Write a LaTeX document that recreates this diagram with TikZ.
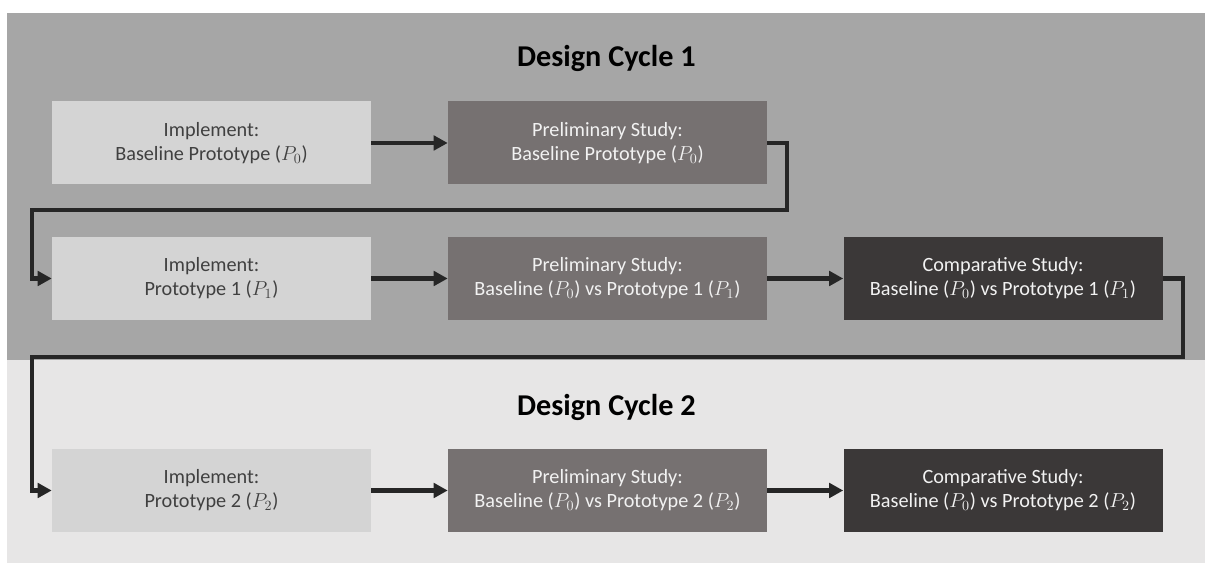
\documentclass[tikz,border=0pt]{standalone}
\usepackage{fontspec}
\setmainfont{Carlito}
\usetikzlibrary{arrows.meta}

\definecolor{panelA}{HTML}{A6A6A6}
\definecolor{panelB}{HTML}{E7E6E6}
\definecolor{implfill}{HTML}{D4D4D4}
\definecolor{prelfill}{HTML}{767171}
\definecolor{compfill}{HTML}{3B3838}
\definecolor{flowline}{HTML}{262626}

\begin{document}
\begin{tikzpicture}[
    box/.style={minimum width=7.975cm, minimum height=2.075cm, inner sep=0pt,
      align=center, font=\fontsize{14.4}{17}\selectfont},
    impl/.style={box, fill=implfill, text=black!75},
    prel/.style={box, fill=prelfill, text=white!95!black},
    comp/.style={box, fill=compfill, text=white!95!black},
    cycle/.style={anchor=base, font=\fontsize{21.5}{24}\selectfont\bfseries},
    flow/.style={draw=flowline, line width=3.3pt, -{Triangle[length=0.35cm, width=0.36cm]}},
  ]
    \useasboundingbox (0, 0) rectangle (30.125, 14.125);
    \fill[white] (0, 0) rectangle (30.125, 14.125);

    % two shaded bands, one per cycle
    \fill[panelA] (0.175, 5.125) rectangle (30.125, 13.8);
    \fill[panelB] (0.175, 0.05) rectangle (30.125, 5.125);

    \node[cycle] (title1) at (15.16, 12.45) {Design Cycle 1};
    \node[cycle] (title2) at (15.16, 3.725) {Design Cycle 2};

    % cycle 1
    \node[impl] (i0) at (5.2875, 10.55) {Implement:\\Baseline Prototype ($P_0$)};
    \node[prel] (s0) at (15.1875, 10.55) {Preliminary Study:\\Baseline Prototype ($P_0$)};
    \node[impl] (i1) at (5.2875, 7.1625) {Implement:\\Prototype 1 ($P_1$)};
    \node[prel] (s1) at (15.1875, 7.1625) {Preliminary Study:\\Baseline ($P_0$) vs Prototype 1 ($P_1$)};
    \node[comp] (c1) at (25.075, 7.1625) {Comparative Study:\\Baseline ($P_0$) vs Prototype 1 ($P_1$)};

    % cycle 2
    \node[impl] (i2) at (5.2875, 1.8625) {Implement:\\Prototype 2 ($P_2$)};
    \node[prel] (s2) at (15.1875, 1.8625) {Preliminary Study:\\Baseline ($P_0$) vs Prototype 2 ($P_2$)};
    \node[comp] (c2) at (25.075, 1.8625) {Comparative Study:\\Baseline ($P_0$) vs Prototype 2 ($P_2$)};

    \foreach \a/\b in {i0/s0, i1/s1, s1/c1, i2/s2, s2/c2}{
      \draw[flow] (\a) -- (\b);
    }

    % wrap-around links
    \coordinate (turn0) at (19.675, 8.875);
    \coordinate (back0) at (0.8, 8.875);
    \coordinate (turn1) at (29.575, 5.2);
    \coordinate (back1) at (0.8, 5.2);

    \draw[flow] (s0.east) -| (turn0) -- (back0) |- (i1.west);
    \draw[flow] (c1.east) -| (turn1) -- (back1) |- (i2.west);
\end{tikzpicture}
\end{document}
